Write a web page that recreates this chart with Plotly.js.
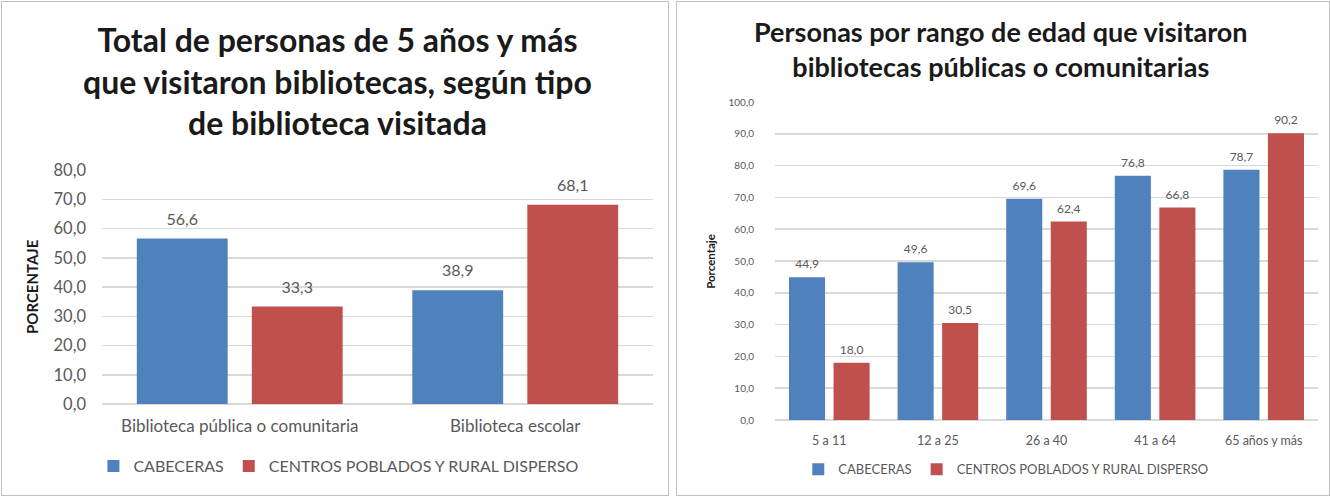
<!DOCTYPE html>
<html>
<head>
<meta charset="utf-8">
<script src="https://cdn.plot.ly/plotly-3.0.1.min.js"></script>
<style>
  html, body { margin: 0; padding: 0; background: #ffffff; }
  body { width: 1330px; height: 496px; position: relative; overflow: hidden; }
  #c1 { position: absolute; left: 1px; top: 1px; width: 666px; height: 493px; border: 1px solid #bfbfbf; }
  #c2 { position: absolute; left: 676px; top: 1px; width: 652px; height: 493px; border: 1px solid #bfbfbf; }
</style>
</head>
<body>
<div id="c1"></div>
<div id="c2"></div>
<script>
// ---- Data: chart 1 ----
const tipos = ["Biblioteca pública o comunitaria", "Biblioteca escolar"];
const cabeceras1 = [56.6, 38.9];
const centros1 = [33.3, 68.1];
const ticks1 = [0, 10, 20, 30, 40, 50, 60, 70, 80];

// ---- Data: chart 2 ----
const edades = ["5 a 11", "12 a 25", "26 a 40", "41 a 64", "65 años y más"];
const cabeceras2 = [44.9, 49.6, 69.6, 76.8, 78.7];
const centros2 = [18.0, 30.5, 62.4, 66.8, 90.2];
const ticks2 = [0, 10, 20, 30, 40, 50, 60, 70, 80, 90, 100];

const serie1Name = "CABECERAS";
const serie2Name = "CENTROS POBLADOS Y RURAL DISPERSO";
const title1 = "Total de personas de 5 años y más<br>que visitaron bibliotecas, según tipo<br>de biblioteca visitada";
const title2 = "Personas por rango de edad que visitaron<br>bibliotecas públicas o comunitarias";

const BLUE = "#4F81BD";
const RED = "#C0504D";
const FONT = "Lato, 'Open Sans', 'Liberation Sans', sans-serif";
const GRAY = "#595959";
const DARK = "#1a1a1a";

function fmt(v) { return v.toFixed(1).replace(".", ","); }
function tickText(arr) { return arr.map(fmt); }

function bars(x, y, name, color) {
  return {
    type: "bar", x: x, y: y, name: name,
    marker: { color: color },
    hoverinfo: "x+y"
  };
}
function labels(x, y, name, fsize, msize) {
  return {
    type: "scatter", mode: "markers+text", x: x, y: y, name: name + " (valor)",
    text: y.map(fmt), textposition: "top center", cliponaxis: false,
    marker: { size: msize, color: "rgba(0,0,0,0)" },
    textfont: { family: FONT, size: fsize, color: GRAY },
    showlegend: false, hoverinfo: "skip"
  };
}

// Chart 1
const layout1 = {
  width: 666, height: 493,
  margin: { l: 100, r: 15, t: 168, b: 91 },
  paper_bgcolor: "#ffffff", plot_bgcolor: "#ffffff",
  font: { family: FONT, color: GRAY },
  barmode: "group", bargap: 0.165, bargroupgap: 0.21,
  scattermode: "group", scattergap: 0.165,
  xaxis: {
    type: "category", showgrid: false, showline: false, ticks: "",
    ticklabelstandoff: 10,
    tickfont: { family: FONT, size: 17, color: GRAY }, automargin: false
  },
  yaxis: {
    range: [0, 80], tickvals: ticks1, ticktext: tickText(ticks1),
    showgrid: true, gridcolor: "#d9d9d9", gridwidth: 1.5, zeroline: true, zerolinecolor: "#d9d9d9", zerolinewidth: 1.5,
    showline: false, ticks: "", ticklabelstandoff: 15,
    tickfont: { family: FONT, size: 16.5, color: GRAY }, automargin: false
  },
  annotations: [
    { text: title1, xref: "paper", yref: "paper", x: 0.4265, y: 1.38, xanchor: "center", yanchor: "middle",
      showarrow: false, align: "center", font: { family: FONT, size: 32, color: DARK, weight: "bold" } },
    { text: "PORCENTAJE", xref: "paper", yref: "paper", x: -0.127, y: 0.5, xanchor: "center", yanchor: "middle",
      textangle: -90, showarrow: false, font: { family: FONT, size: 15, color: DARK, weight: "bold" } }
  ],
  showlegend: true,
  legend: {
    orientation: "h", x: 0.43, xanchor: "center", y: -0.265, yanchor: "middle",
    font: { family: FONT, size: 16, color: GRAY }, traceorder: "normal"
  }
};
Plotly.newPlot("c1", [
  bars(tipos, cabeceras1, serie1Name, BLUE),
  bars(tipos, centros1, serie2Name, RED),
  labels(tipos, cabeceras1, serie1Name, 16, 14),
  labels(tipos, centros1, serie2Name, 16, 14)
], layout1, { displayModeBar: false, staticPlot: true });

// Chart 2
const layout2 = {
  width: 652, height: 493,
  margin: { l: 98, r: 11, t: 100, b: 75 },
  paper_bgcolor: "#ffffff", plot_bgcolor: "#ffffff",
  font: { family: FONT, color: GRAY },
  barmode: "group", bargap: 0.18, bargroupgap: 0.19,
  scattermode: "group", scattergap: 0.18,
  xaxis: {
    type: "category", showgrid: false, showline: false, ticks: "",
    ticklabelstandoff: 11,
    tickfont: { family: FONT, size: 12.5, color: GRAY }, automargin: false
  },
  yaxis: {
    range: [0, 100], tickvals: ticks2, ticktext: tickText(ticks2),
    showgrid: true, gridcolor: "#d9d9d9", gridwidth: 1.5, zeroline: true, zerolinecolor: "#d9d9d9", zerolinewidth: 1.5,
    showline: false, ticks: "", ticklabelstandoff: 20,
    tickfont: { family: FONT, size: 10, color: GRAY }, automargin: false
  },
  annotations: [
    { text: title2, xref: "paper", yref: "paper", x: 0.416, y: 1.167, xanchor: "center", yanchor: "middle",
      showarrow: false, align: "center", font: { family: FONT, size: 27, color: DARK, weight: "bold" } },
    { text: "Porcentaje", xref: "paper", yref: "paper", x: -0.12, y: 0.5, xanchor: "center", yanchor: "middle",
      textangle: -90, showarrow: false, font: { family: FONT, size: 11.5, color: DARK, weight: "bold" } }
  ],
  showlegend: true,
  legend: {
    orientation: "h", x: 0.425, xanchor: "center", y: -0.155, yanchor: "middle",
    font: { family: FONT, size: 13, color: GRAY }, traceorder: "normal"
  }
};
Plotly.newPlot("c2", [
  bars(edades, cabeceras2, serie1Name, BLUE),
  bars(edades, centros2, serie2Name, RED),
  labels(edades, cabeceras2, serie1Name, 12, 8),
  labels(edades, centros2, serie2Name, 12, 8)
], layout2, { displayModeBar: false, staticPlot: true });
</script>
</body>
</html>
